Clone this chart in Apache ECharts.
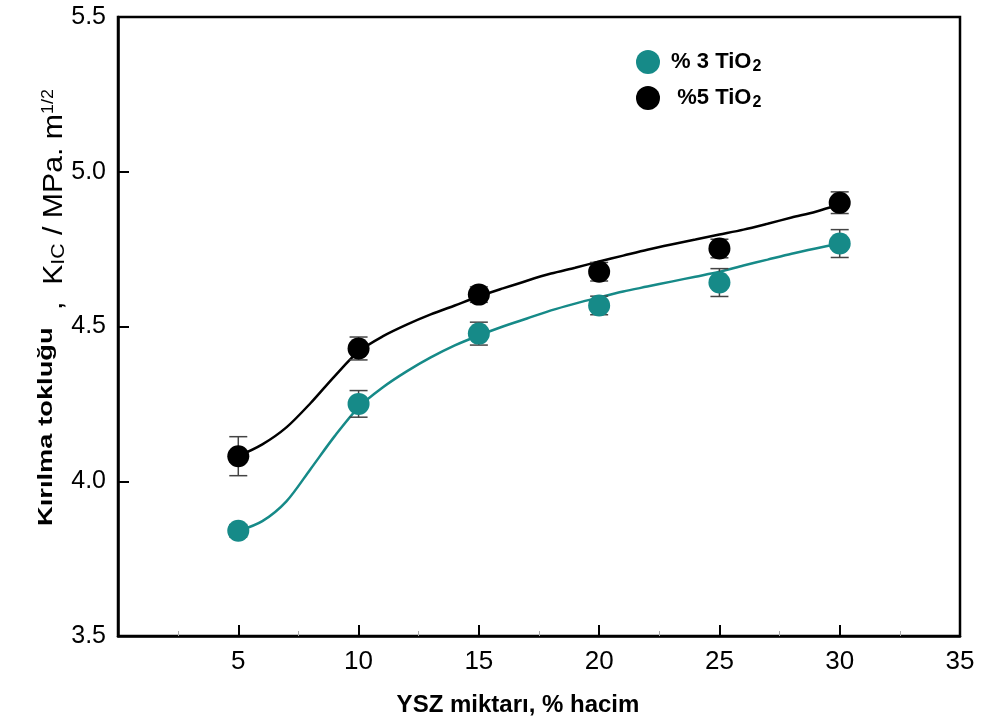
<!DOCTYPE html>
<html>
<head>
<meta charset="utf-8">
<script src="https://cdn.jsdelivr.net/npm/echarts@6/dist/echarts.min.js"></script>
<style>
  html, body { margin: 0; padding: 0; background: #fff; }
  #chart { width: 984px; height: 725px; }
</style>
</head>
<body>
<div id="chart"></div>
<script>
// measured points (YSZ %, KIC) and error bars
const ysz = [5, 10, 15, 20, 25, 30]
const tio3 = [3.84, 4.25, 4.477, 4.568, 4.642, 4.768]
const tio3Err = [0.02, 0.043, 0.037, 0.03, 0.045, 0.045]
const tio5 = [4.081, 4.429, 4.603, 4.677, 4.752, 4.90]
const tio5Err = [0.063, 0.037, 0.025, 0.03, 0.03, 0.035]

// fitted curves at every 1 % YSZ
const fitX = [5, 6, 7, 8, 9, 10, 11, 12, 13, 14, 15, 16, 17, 18, 19, 20, 21, 22, 23, 24, 25, 26, 27, 28, 29, 30]
const fit3 = [3.839, 3.871, 3.935, 4.039, 4.145, 4.239, 4.303, 4.355, 4.400, 4.439, 4.471, 4.5, 4.526, 4.552, 4.574,
  4.594, 4.613, 4.629, 4.645, 4.661, 4.677, 4.697, 4.716, 4.735, 4.752, 4.768]
const fit5 = [4.081, 4.119, 4.174, 4.252, 4.339, 4.419, 4.468, 4.506, 4.539, 4.568, 4.597, 4.623, 4.648, 4.671, 4.69,
  4.71, 4.729, 4.748, 4.765, 4.781, 4.797, 4.813, 4.832, 4.852, 4.871, 4.894]

const teal = '#168a88'
const black = '#000000'

const zip = (xs, ys) => xs.map((x, i) => [x, ys[i]])
const errData = (ys, es) => ysz.map((x, i) => [x, ys[i] - es[i], ys[i] + es[i]])

function errorBar(params, api) {
  const x = api.value(0)
  const lo = api.coord([x, api.value(1)])
  const hi = api.coord([x, api.value(2)])
  const w = 9
  const style = { stroke: '#444', lineWidth: 1.5 }
  return {
    type: 'group',
    children: [
      { type: 'line', shape: { x1: lo[0], y1: lo[1], x2: hi[0], y2: hi[1] }, style },
      { type: 'line', shape: { x1: lo[0] - w, y1: lo[1], x2: lo[0] + w, y2: lo[1] }, style },
      { type: 'line', shape: { x1: hi[0] - w, y1: hi[1], x2: hi[0] + w, y2: hi[1] }, style }
    ]
  }
}

const chart = echarts.init(document.getElementById('chart'))
const option = {
  animation: false,
  grid: {
    left: 118, right: 24, top: 17, bottom: 89,
    show: true, borderColor: '#000', borderWidth: 2.5
  },
  legend: {
    left: 631, top: 45, orient: 'vertical', itemGap: 11,
    itemWidth: 24, itemHeight: 24, icon: 'circle',
    data: ['% 3 TiO2', '%5 TiO2'],
    formatter: function (name) {
      return name === '% 3 TiO2' ? '{t| % 3 TiO}{s|2}' : '{t|  %5 TiO}{s|2}'
    },
    textStyle: {
      rich: {
        t: { fontFamily: 'Liberation Sans', fontWeight: 'bold', fontSize: 22, color: '#000' },
        s: { fontFamily: 'Liberation Sans', fontWeight: 'bold', fontSize: 16, color: '#000', verticalAlign: 'bottom', padding: [10, 0, 0, 1] }
      }
    }
  },
  xAxis: {
    type: 'value', min: 0, max: 35, interval: 5,
    axisLine: { lineStyle: { color: '#000', width: 2.5 } },
    axisTick: { inside: true, length: 11, lineStyle: { color: '#000', width: 2 } },
    minorTick: { show: true, splitNumber: 2, length: 5, lineStyle: { color: '#aaa', width: 1 } },
    splitLine: { show: false },
    axisLabel: {
      margin: 13, fontFamily: 'Liberation Sans', fontSize: 26, color: '#000',
      formatter: v => (v === 0 ? '' : String(v))
    }
  },
  yAxis: {
    type: 'value', min: 3.5, max: 5.5, interval: 0.5,
    axisLine: { lineStyle: { color: '#000', width: 2.5 } },
    axisTick: { inside: true, length: 11, lineStyle: { color: '#000', width: 2 } },
    splitLine: { show: false },
    axisLabel: {
      margin: 12, fontFamily: 'Liberation Sans', fontSize: 25, color: '#000',
      formatter: v => v.toFixed(1)
    }
  },
  graphic: [
    {
      // bold part of the y title
      type: 'text', x: 57, y: 526, rotation: Math.PI / 2, scaleX: 1.3,
      style: {
        text: 'Kırılma tokluğu',
        align: 'left', verticalAlign: 'bottom',
        fontFamily: 'Liberation Sans', fontWeight: 'bold', fontSize: 21, fill: '#000'
      }
    },
    {
      // regular part of the y title
      type: 'text', x: 68, y: 310, rotation: Math.PI / 2, scaleX: 1.12,
      style: {
        text: '{r|,  K}{i|IC}{r| / MPa. m}{p|1/2}',
        align: 'left', verticalAlign: 'bottom',
        rich: {
          r: { fontFamily: 'Liberation Sans', fontSize: 27, color: '#000', verticalAlign: 'bottom' },
          i: { fontFamily: 'Liberation Sans', fontSize: 19, color: '#000', verticalAlign: 'bottom' },
          p: { fontFamily: 'Liberation Sans', fontSize: 16, color: '#000', verticalAlign: 'top' }
        }
      }
    },
    {
      type: 'text', x: 518, y: 705,
      style: {
        text: 'YSZ miktarı, % hacim',
        align: 'center', verticalAlign: 'middle',
        fontFamily: 'Liberation Sans', fontWeight: 'bold', fontSize: 24, fill: '#000'
      }
    }
  ],
  series: [
    {
      name: 'fit3', type: 'line', data: zip(fitX, fit3), smooth: 0.3, showSymbol: false,
      lineStyle: { color: teal, width: 2.5 }, z: 2, silent: true
    },
    {
      name: 'fit5', type: 'line', data: zip(fitX, fit5), smooth: 0.3, showSymbol: false,
      lineStyle: { color: black, width: 2.5 }, z: 2, silent: true
    },
    { type: 'custom', renderItem: errorBar, data: errData(tio3, tio3Err), z: 3 },
    { type: 'custom', renderItem: errorBar, data: errData(tio5, tio5Err), z: 3 },
    {
      name: '% 3 TiO2', type: 'scatter', data: zip(ysz, tio3), symbolSize: 22,
      itemStyle: { color: teal, opacity: 1 }, z: 4
    },
    {
      name: '%5 TiO2', type: 'scatter', data: zip(ysz, tio5), symbolSize: 22,
      itemStyle: { color: black, opacity: 1 }, z: 4
    }
  ]
}
chart.setOption(option)
</script>
</body>
</html>
